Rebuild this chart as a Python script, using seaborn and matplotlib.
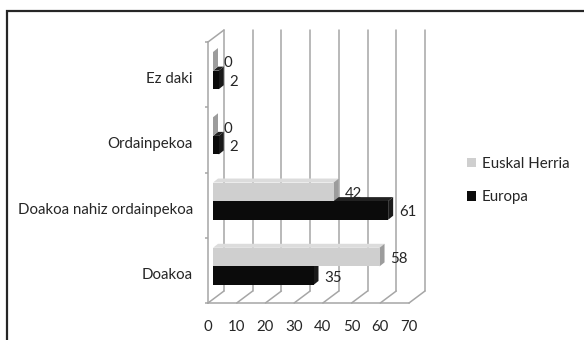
import numpy as np
import pandas as pd
import matplotlib
matplotlib.use("Agg")
import matplotlib.pyplot as plt
import matplotlib.transforms as mtransforms
from matplotlib.patches import Polygon, Rectangle
import seaborn as sns

# ---- data -------------------------------------------------------------
categories = ["Ez daki", "Ordainpekoa", "Doakoa nahiz ordainpekoa", "Doakoa"]
series = ["Euskal Herria", "Europa"]
euskal_herria = [0, 0, 42, 58]
europa = [2, 2, 61, 35]
x_ticks = [0, 10, 20, 30, 40, 50, 60, 70]

df = pd.DataFrame({
    "kategoria": categories * 2,
    "serie": [series[0]] * len(categories) + [series[1]] * len(categories),
    "balioa": euskal_herria + europa,
})

# ---- style ------------------------------------------------------------
sns.set_theme(style="white")
plt.rcParams["font.family"] = ["Lato", "DejaVu Sans"]
TXT = "#262626"
GRID = "#a6a6a6"
FS = 10.8

front_col = {"Euskal Herria": "#cfcfcf", "Europa": "#0b0b0b"}
top_col = {"Euskal Herria": "#dcdcdc", "Europa": "#222222"}
side_col = {"Euskal Herria": "#9c9c9c", "Europa": "#1a1a1a"}

DPI = 100
W, H = 584, 340
fig = plt.figure(figsize=(W / DPI, H / DPI), dpi=DPI)

# front plane of the 3-D box (pixels)
FL, FR, FT, FB = 208, 409, 42, 303
ax = fig.add_axes([FL / W, 1 - FB / H, (FR - FL) / W, (FB - FT) / H])

sns.barplot(data=df, y="kategoria", x="balioa", hue="serie",
            order=categories, hue_order=series, palette=front_col,
            orient="h", width=0.57, saturation=1, linewidth=0,
            ax=ax)

ax.set_xlim(x_ticks[0], x_ticks[-1])
ax.set_ylim(len(categories) - 0.5, -0.5)

# data units per pixel
ux = (x_ticks[-1] - x_ticks[0]) / (FR - FL)
uy = len(categories) / (FB - FT)


def px_offset(dx, dy):
    return mtransforms.ScaledTranslation(dx / DPI, dy / DPI, fig.dpi_scale_trans)


BOX_DX, BOX_DY = 16, 12      # depth of the box
BAR_OX, BAR_OY = 5, 4        # bars sit a third of the way into the box
BAR_DX, BAR_DY = 5, 4        # depth of each bar

bar_trans = ax.transData + px_offset(BAR_OX, BAR_OY)
back_trans = ax.transData + px_offset(BOX_DX, BOX_DY)

# ---- box: back wall grid, floor and left wall ------------------------
yb = len(categories) - 0.5
for v in x_ticks:
    ax.plot([v, v], [-0.5, yb], transform=back_trans,
            color=GRID, lw=1.1, zorder=0.5, clip_on=False)
    # floor lines running from the front edge to the back wall
    ax.plot([v, v + BOX_DX * ux], [yb, yb - BOX_DY * uy],
            color=GRID, lw=1.1, zorder=0.5, clip_on=False)
# top edge of the left wall
ax.plot([0, BOX_DX * ux], [-0.5, -0.5 - BOX_DY * uy],
        color=GRID, lw=1.1, zorder=0.5, clip_on=False)

for s in ["top", "right"]:
    ax.spines[s].set_visible(False)
for s in ["left", "bottom"]:
    ax.spines[s].set_color(GRID)
    ax.spines[s].set_linewidth(1.1)
    ax.spines[s].set_zorder(0.6)

# ---- 3-D bar faces ----------------------------------------------------
dx, dy = BAR_DX * ux, -BAR_DY * uy
for si, (name, cont) in enumerate(zip(series, ax.containers)):
    # lower series is painted first so the upper bar hides its top face
    z = 2 + (len(series) - si)
    for rect, val in zip(cont.patches, cont.datavalues):
        x0, y0 = rect.get_x(), rect.get_y()
        w, h = rect.get_width(), rect.get_height()
        rect.set_transform(bar_trans)
        rect.set_zorder(z + 0.2)
        rect.set_clip_on(False)
        top = Polygon([(x0, y0), (x0 + w, y0), (x0 + w + dx, y0 + dy), (x0 + dx, y0 + dy)],
                      closed=True, facecolor=top_col[name], edgecolor="none",
                      transform=bar_trans, zorder=z + 0.1, clip_on=False)
        side = Polygon([(x0 + w, y0), (x0 + w, y0 + h), (x0 + w + dx, y0 + h + dy),
                        (x0 + w + dx, y0 + dy)],
                       closed=True, facecolor=side_col[name], edgecolor="none",
                       transform=bar_trans, zorder=z + 0.1, clip_on=False)
        ax.add_patch(top)
        ax.add_patch(side)
        ax.text(x0 + w, y0 + h / 2, f"{val:g}",
                transform=ax.transData + px_offset(BAR_OX + 11, BAR_OY - 2),
                ha="left", va="center", fontsize=FS, color=TXT, zorder=10)

# ---- axes ticks and labels -------------------------------------------
ax.set_xticks(x_ticks, labels=[str(t) for t in x_ticks])
ax.set_yticks(np.arange(len(categories)) + 3 * uy, labels=categories)
ax.set_yticks(np.arange(len(categories) + 1) - 0.5, minor=True)
ax.tick_params(axis="x", length=1.6, width=1.1, color=GRID, direction="out",
               pad=10.4, labelsize=FS, labelcolor=TXT)
ax.tick_params(axis="y", which="major", length=0, pad=10.8, labelsize=FS, labelcolor=TXT)
ax.tick_params(axis="y", which="minor", left=True, length=2.2, width=1.1,
               color=GRID, direction="out")
ax.set_xlabel("")
ax.set_ylabel("")

# ---- legend -----------------------------------------------------------
handles, labels = ax.get_legend_handles_labels()
if ax.get_legend() is not None:
    ax.get_legend().remove()
fig.legend(handles, labels, loc="upper left",
           bbox_to_anchor=(467 / W, 1 - 157 / H), frameon=False,
           fontsize=FS, labelcolor=TXT, handlelength=0.6, handleheight=0.6,
           handletextpad=0.4, labelspacing=1.3, borderpad=0, borderaxespad=0)

# ---- outer frame ------------------------------------------------------
fig.add_artist(Rectangle((7 / W, -0.5), 1.5, (1 - 11 / H) + 0.5,
                         transform=fig.transFigure, fill=False,
                         lw=1.6, edgecolor="#262626"))

fig.savefig("out.png", dpi=DPI)
